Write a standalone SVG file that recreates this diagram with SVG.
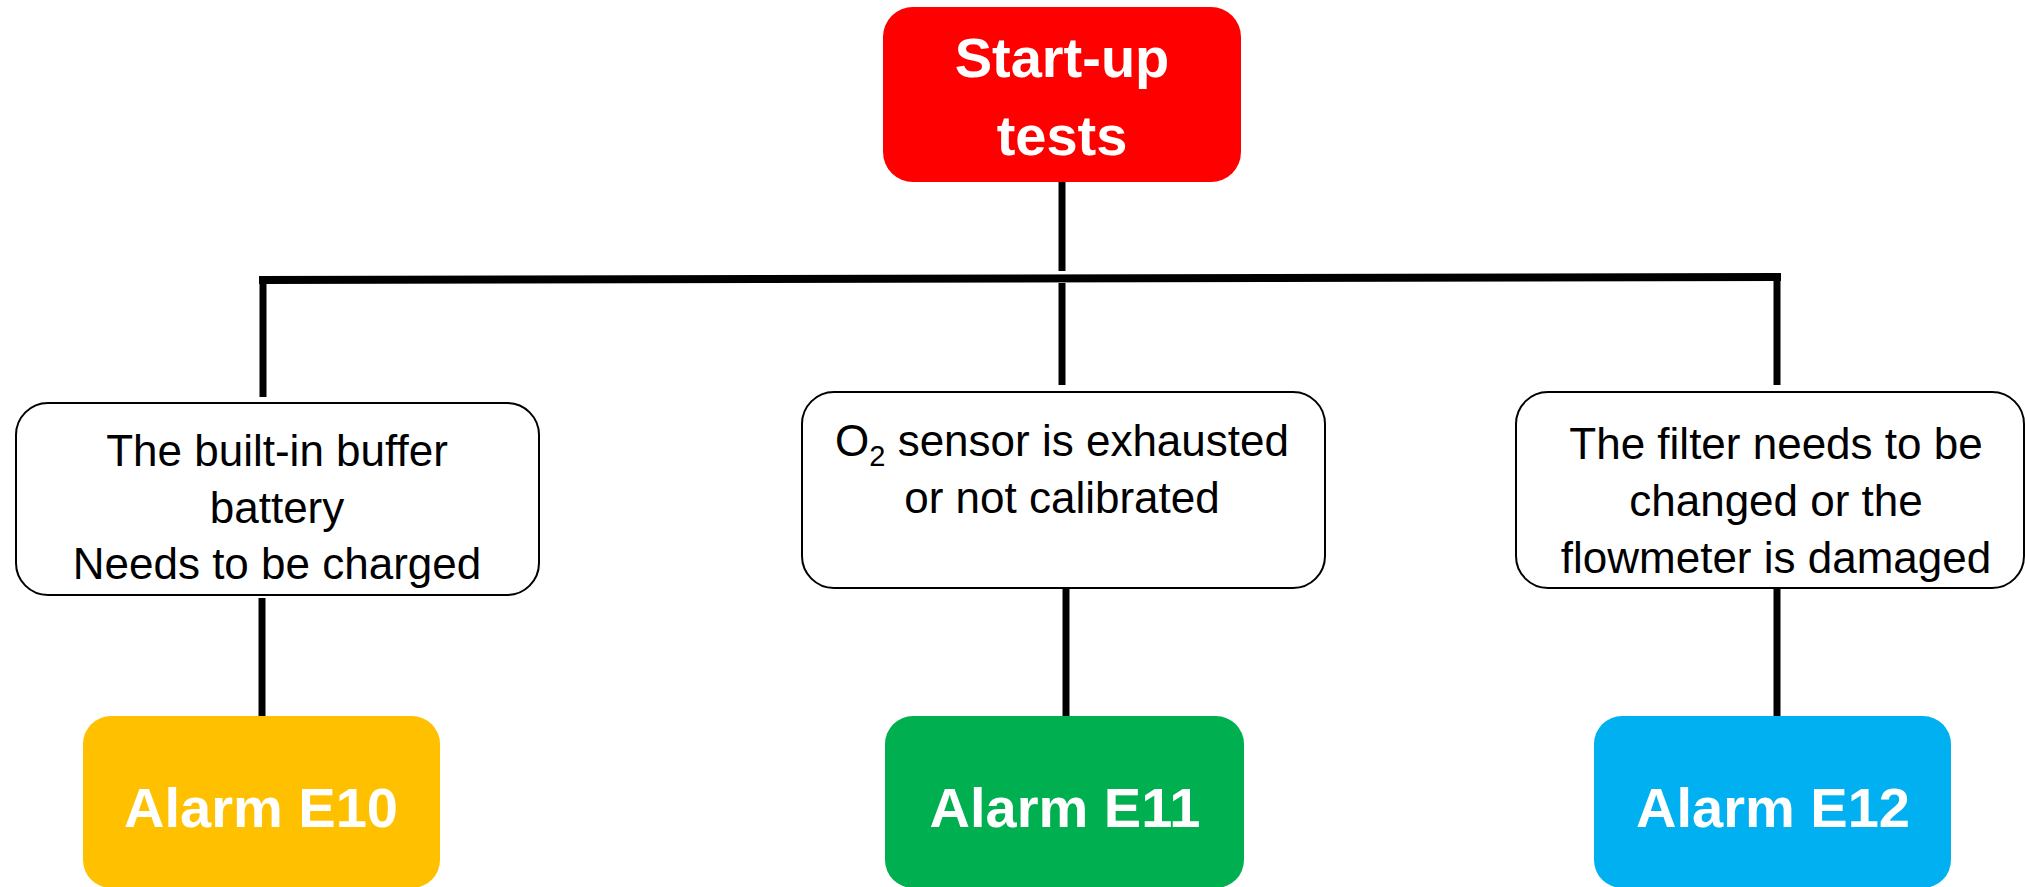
<svg xmlns="http://www.w3.org/2000/svg" width="2025" height="887" viewBox="0 0 2025 887">
<style>
.conn{stroke:#000;stroke-width:7;fill:none}
.cause{fill:#fff;stroke:#000;stroke-width:2}
.txt{font-family:"Liberation Sans",Arial,sans-serif;font-size:44px;fill:#000;text-anchor:middle}
.btxt{font-family:"Liberation Sans",Arial,sans-serif;font-weight:bold;font-size:56px;fill:#fff;text-anchor:middle}
</style>
<rect width="2025" height="887" fill="#fff"/>
<g id="connectors">
<line class="conn" x1="1062" y1="182" x2="1062" y2="271"/>
<line class="conn" x1="259" y1="280" x2="1781" y2="277" style="stroke-width:8"/>
<line class="conn" x1="1062" y1="283" x2="1062" y2="385"/>
<line class="conn" x1="263" y1="280" x2="263" y2="397"/>
<line class="conn" x1="1777" y1="277" x2="1777" y2="385"/>
<line class="conn" x1="262" y1="598" x2="262" y2="716"/>
<line class="conn" x1="1066" y1="589" x2="1066" y2="716"/>
<line class="conn" x1="1777" y1="589" x2="1777" y2="716"/>
</g>
<g id="start">
<rect x="883" y="7" width="358" height="175" rx="30" fill="#FF0000"/>
<text class="btxt" x="1062" y="77">Start-up</text>
<text class="btxt" x="1062" y="155">tests</text>
</g>
<g id="cause1">
<rect class="cause" x="16" y="403" width="523" height="192" rx="32"/>
<text class="txt" x="277" y="466">The built-in buffer</text>
<text class="txt" x="277" y="523">battery</text>
<text class="txt" x="277" y="579">Needs to be charged</text>
</g>
<g id="cause2">
<rect class="cause" x="802" y="392" width="523" height="196" rx="32"/>
<text class="txt" x="1062" y="456">O<tspan font-size="29" dy="10">2</tspan><tspan dy="-10"> sensor is exhausted</tspan></text>
<text class="txt" x="1062" y="513">or not calibrated</text>
</g>
<g id="cause3">
<rect class="cause" x="1516" y="392" width="508" height="196" rx="32"/>
<text class="txt" x="1776" y="459">The filter needs to be</text>
<text class="txt" x="1776" y="516">changed or the</text>
<text class="txt" x="1776" y="573">flowmeter is damaged</text>
</g>
<g id="alarmE10">
<rect x="83" y="716" width="357" height="172" rx="28" fill="#FFC000"/>
<text class="btxt" x="261" y="827">Alarm E10</text>
</g>
<g id="alarmE11">
<rect x="885" y="716" width="359" height="172" rx="28" fill="#00B050"/>
<text class="btxt" x="1065" y="827">Alarm E11</text>
</g>
<g id="alarmE12">
<rect x="1594" y="716" width="357" height="172" rx="28" fill="#00B0F0"/>
<text class="btxt" x="1773" y="827">Alarm E12</text>
</g>
</svg>
